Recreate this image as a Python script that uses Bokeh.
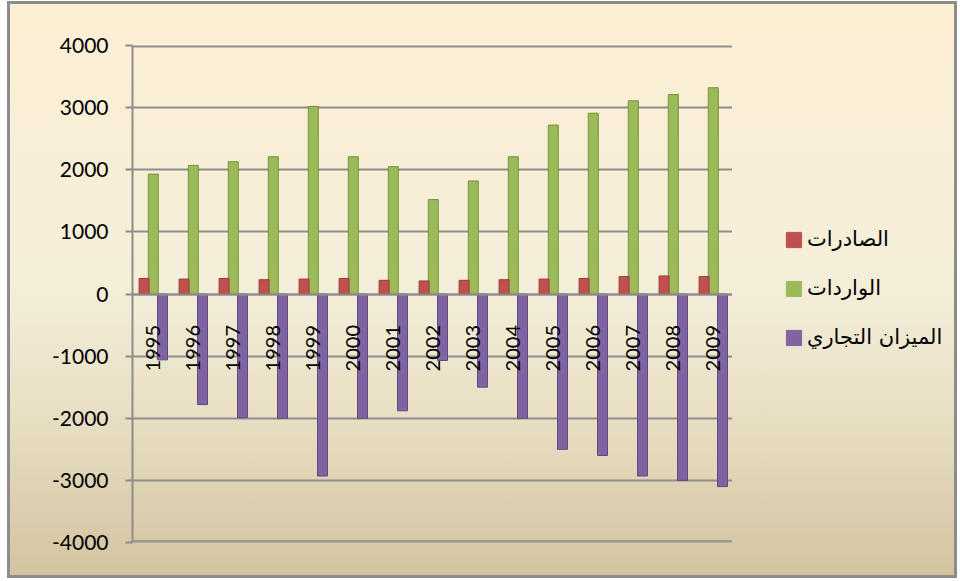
import math
from bokeh.plotting import figure
from bokeh.layouts import row
from bokeh.models import (FactorRange, Range1d, FixedTicker, Legend, LegendItem,
                          Span, ColumnDataSource, CustomJSTickFormatter)
from bokeh.transform import dodge
from bokeh.embed import file_html
from bokeh.resources import INLINE

# ---------------- data ----------------
years = ["1995", "1996", "1997", "1998", "1999", "2000", "2001", "2002",
         "2003", "2004", "2005", "2006", "2007", "2008", "2009"]
exports = [250, 240, 250, 230, 240, 250, 220, 210, 220, 230, 240, 250, 280, 290, 280]
imports = [1930, 2070, 2130, 2210, 3020, 2210, 2050, 1520, 1820, 2210, 2720, 2910, 3110, 3210, 3320]
balance = [-1060, -1780, -1990, -2000, -2930, -2000, -1880, -1070, -1500, -2000,
           -2500, -2600, -2930, -3000, -3100]
y_ticks = [-4000, -3000, -2000, -1000, 0, 1000, 2000, 3000, 4000]
series_labels = ["الصادرات", "الواردات", "الميزان التجاري"]
series_colors = ["#c0504d", "#9bbb59", "#8064a2"]
series_edges = ["#9c3c3a", "#76923c", "#5f4b82"]

# ---------------- main chart ----------------
W, H = 960, 581
FL, FR, FT, FB = 132, 732, 45, 542

src = ColumnDataSource(dict(year=years, exports=exports, imports=imports, balance=balance))

p = figure(width=FR, height=H,
           x_range=FactorRange(*years, range_padding=0),
           y_range=Range1d(y_ticks[0], y_ticks[-1]),
           output_backend="svg", toolbar_location=None,
           min_border_left=FL, min_border_right=0,
           min_border_top=FT, min_border_bottom=H - FB)
p.outline_line_color = None
p.border_fill_color = None
p.background_fill_color = None

# grid
p.xgrid.grid_line_color = None
p.ygrid.ticker = FixedTicker(ticks=y_ticks)
p.ygrid.grid_line_color = "#8e8e8e"
p.ygrid.grid_line_width = 2
p.add_layout(Span(location=y_ticks[-1], dimension="width", line_color="#909090", line_width=4))
p.add_layout(Span(location=y_ticks[0], dimension="width", line_color="#9a9a9a", line_width=5))

# bars
W_BAR = 0.25
rb = p.vbar(x=dodge("year", 0.25, range=p.x_range), top="balance", bottom=0, width=W_BAR,
            source=src, fill_color=series_colors[2], line_color=series_edges[2], line_width=1)
rg = p.vbar(x=dodge("year", 0.02, range=p.x_range), top="imports", bottom=0, width=W_BAR,
            source=src, fill_color=series_colors[1], line_color=series_edges[1], line_width=1)
rr = p.vbar(x=dodge("year", -0.21, range=p.x_range), top="exports", bottom=0, width=W_BAR,
            source=src, fill_color=series_colors[0], line_color=series_edges[0], line_width=1)

# axes
p.yaxis.ticker = FixedTicker(ticks=y_ticks)
p.yaxis.formatter = CustomJSTickFormatter(code="return String(tick)")
p.yaxis.axis_line_color = "#8c8c8c"
p.yaxis.axis_line_width = 2
p.yaxis.major_tick_line_color = "#8c8c8c"
p.yaxis.major_tick_line_width = 2
p.yaxis.major_tick_out = 7
p.yaxis.major_tick_in = 0
p.yaxis.minor_tick_line_color = None
p.yaxis.major_label_standoff = 17
p.yaxis.major_label_text_font = "Lato"
p.yaxis.major_label_text_font_size = "21px"
p.yaxis.major_label_text_color = "black"

p.xaxis.fixed_location = 0
p.xaxis.axis_line_color = "#8c8c8c"
p.xaxis.axis_line_width = 2
p.xaxis.major_tick_line_color = None
p.xaxis.minor_tick_line_color = None
p.xaxis.major_label_orientation = math.pi / 2
p.xaxis.major_label_standoff = 25
p.xaxis.major_label_text_font = "Lato"
p.xaxis.major_label_text_font_size = "20px"
p.xaxis.major_label_text_color = "black"

# ---------------- legend panel ----------------
LW = W - FR
q = figure(width=LW, height=H, x_range=Range1d(0, 1), y_range=Range1d(0, 1),
           output_backend="svg", toolbar_location=None,
           min_border=0, min_border_left=0, min_border_right=0,
           min_border_top=0, min_border_bottom=0)
q.axis.visible = False
q.grid.visible = False
q.outline_line_color = None
q.border_fill_color = None
q.background_fill_color = None
# legend-only renderers (hidden; they only lend their colours to the legend swatches)
key_src = ColumnDataSource(dict(x=[0.5], top=[0.5]))
dummies = []
for c in series_colors:
    r = q.vbar(x="x", top="top", bottom=0, width=0.1, source=key_src,
               fill_color=c, line_color=c)
    r.visible = False
    dummies.append(r)

legend = Legend(items=[LegendItem(label=lab, renderers=[r]) for lab, r in zip(series_labels, dummies)],
                location=(786 - FR - 2, 193))
legend.background_fill_alpha = 0
legend.border_line_color = None
legend.inactive_fill_alpha = 0
legend.padding = 0
legend.margin = 0
legend.glyph_width = 19
legend.glyph_height = 19
legend.label_height = 15
legend.spacing = 25
legend.label_standoff = 4
legend.label_text_font = "DejaVu Sans"
legend.label_text_font_size = "21px"
legend.label_text_color = "black"
q.add_layout(legend)

layout = row(p, q, spacing=0)
# parchment gradient chart area with grey outer frame, drawn as CSS behind the canvases
layout.styles = {
    "background": (
        "linear-gradient(to bottom, #fdefd4 0%, #f4eed9 50%, #e6dcc0 75%, #d3c3a0 100%) "
        "10px 4px / 944px 571px no-repeat, "
        "linear-gradient(#8c8c8c, #8c8c8c) 7px 1px / 950px 577px no-repeat, white"
    )
}

open("out.html", "w").write(file_html(layout, INLINE))
